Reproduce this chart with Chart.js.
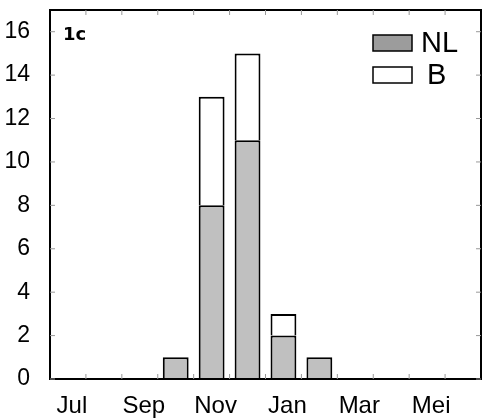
<!DOCTYPE html>
<html>
<head>
<meta charset="utf-8">
<script src="https://cdn.jsdelivr.net/npm/chart.js@4/dist/chart.umd.min.js"></script>
<style>
  html, body { margin: 0; padding: 0; background: #fff; }
  #wrap { width: 484px; height: 418px; }
</style>
</head>
<body>
<div id="wrap"><canvas id="chart" width="484" height="418"></canvas></div>
<script>
// Data
const months = ['Jul', 'Agu', 'Sep', 'Okt', 'Nov', 'Des', 'Jan', 'Feb', 'Mar', 'Apr', 'Mei', 'Jun'];
const nlValues = [null, null, null, 1, 8, 11, 2, 1, null, null, null, null];
const bValues = [null, null, null, null, 5, 4, 1, null, null, null, null, null];
const yTicks = [0, 2, 4, 6, 8, 10, 12, 14, 16];

const FONT = 'Liberation Sans, Arial, sans-serif';

// frame, inner ticks, panel tag and legend
const framePlugin = {
    id: 'frame',
    afterDraw(chart) {
        const { ctx, chartArea: a, scales } = chart;
        ctx.save();
        ctx.strokeStyle = '#000';
        ctx.lineWidth = 2;
        ctx.strokeRect(a.left, a.top, a.right - a.left, a.bottom - a.top);

        // small inward ticks
        ctx.lineWidth = 1;
        ctx.strokeStyle = '#999';
        yTicks.forEach(v => {
            const y = scales.y.getPixelForValue(v);
            ctx.beginPath(); ctx.moveTo(a.left, y); ctx.lineTo(a.left + 5, y); ctx.stroke();
            ctx.beginPath(); ctx.moveTo(a.right, y); ctx.lineTo(a.right - 5, y); ctx.stroke();
        });
        const step = (a.right - a.left) / months.length;
        for (let i = 1; i < months.length; i++) {
            const x = a.left + step * i;
            ctx.beginPath(); ctx.moveTo(x, a.bottom); ctx.lineTo(x, a.bottom - 5); ctx.stroke();
            ctx.beginPath(); ctx.moveTo(x, a.top); ctx.lineTo(x, a.top + 5); ctx.stroke();
        }

        // panel tag
        ctx.fillStyle = '#000';
        ctx.font = 'bold 18px "DejaVu Sans", sans-serif';
        ctx.textBaseline = 'alphabetic';
        ctx.fillText('1c', a.left + 13, a.top + 30);

        // legend
        const ds = chart.data.datasets;
        const items = [
            { label: ds[0].label, fill: '#9c9c9c', y: 35, tx: 421 },
            { label: ds[1].label, fill: '#fff', y: 67, tx: 427 }
        ];
        ctx.font = '29px ' + FONT;
        ctx.textBaseline = 'middle';
        items.forEach(it => {
            ctx.fillStyle = it.fill;
            ctx.fillRect(373, it.y, 39, 16);
            ctx.strokeStyle = '#000';
            ctx.lineWidth = 1.5;
            ctx.strokeRect(373, it.y, 39, 16);
            ctx.fillStyle = '#000';
            ctx.fillText(it.label, it.tx, it.y + 9);
        });
        ctx.restore();
    }
};

new Chart(document.getElementById('chart'), {
    type: 'bar',
    data: {
        labels: months,
        datasets: [
            {
                label: 'NL',
                data: nlValues,
                backgroundColor: '#c0c0c0',
                borderColor: '#000',
                borderWidth: 2,
                borderSkipped: 'bottom'
            },
            {
                label: 'B',
                data: bValues,
                backgroundColor: '#fff',
                borderColor: '#000',
                borderWidth: 2,
                borderSkipped: 'bottom'
            }
        ]
    },
    options: {
        responsive: false,
        animation: false,
        layout: { padding: { top: 10, right: 3, left: 0, bottom: 0 } },
        plugins: {
            legend: { display: false },
            tooltip: { enabled: false }
        },
        scales: {
            x: {
                stacked: true,
                barPercentage: 0.8,
                categoryPercentage: 1.0,
                grid: { display: false },
                border: { display: false },
                ticks: {
                    autoSkip: false,
                    maxRotation: 0,
                    color: '#000',
                    font: { family: FONT, size: 24 },
                    padding: 5,
                    labelOffset: 4,
                    callback: (v, i) => (i % 2 === 0 ? months[i] : '')
                },
                afterFit: s => { s.height = 39; s.paddingLeft = 0; s.paddingRight = 0; }
            },
            y: {
                stacked: true,
                min: 0,
                max: 17,
                grid: { display: false },
                border: { display: false },
                ticks: {
                    stepSize: 2,
                    includeBounds: false,
                    color: '#000',
                    font: { family: FONT, size: 23 },
                    padding: 12
                },
                afterFit: s => { s.width = 50; s.paddingTop = 0; s.paddingBottom = 0; }
            }
        }
    },
    plugins: [framePlugin]
});
</script>
</body>
</html>
